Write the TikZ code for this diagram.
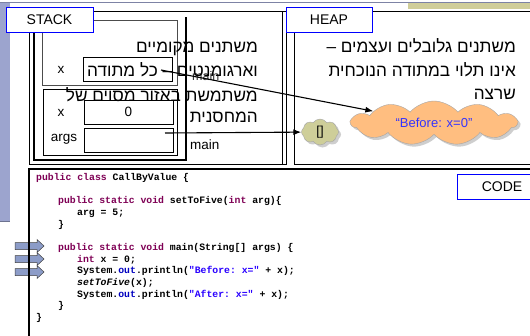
\documentclass[tikz,border=0pt]{standalone}
\usepackage{fontspec}
\setmainfont{Liberation Sans}
\setmonofont{Liberation Mono}
\newfontfamily\hebfont[Script=Hebrew]{Liberation Sans}
\TeXXeTstate=1
\usetikzlibrary{positioning,shapes.symbols,shadows,arrows.meta}

\definecolor{boxblue}{RGB}{0,0,255}
\definecolor{barblue}{RGB}{156,164,206}
\definecolor{arrowblue}{RGB}{140,156,200}
\definecolor{khaki}{RGB}{208,206,154}
\definecolor{cloudorange}{RGB}{255,190,128}
\definecolor{cloudkhaki}{RGB}{206,206,153}
\definecolor{quoteblue}{RGB}{51,51,255}
\definecolor{kwcol}{RGB}{127,0,85}
\definecolor{fldcol}{RGB}{0,0,192}
\definecolor{strcol}{RGB}{42,0,255}

% java syntax colouring
\newcommand{\jkw}[1]{\textcolor{kwcol}{#1}}
\newcommand{\jfld}[1]{\textcolor{fldcol}{#1}}
\newcommand{\jstr}[1]{\textcolor{strcol}{#1}}

\begin{document}
\begin{tikzpicture}[x=1pt,y=-1pt,
  labelbox/.style={draw=boxblue,line width=1pt,fill=white,minimum width=86pt,
    minimum height=25pt,inner sep=0pt,font=\fontsize{14}{16}\selectfont},
  valbox/.style={draw,line width=0.7pt,minimum width=89pt,minimum height=24pt,
    inner sep=0pt,font=\fontsize{13.5}{15}\selectfont},
  varname/.style={inner sep=0pt,font=\fontsize{13.5}{15}\selectfont},
  hebnote/.style={anchor=base east,inner sep=0pt,font=\hebfont\fontsize{17.2}{20}\selectfont},
  codeline/.style={anchor=base west,inner sep=0pt,font=\ttfamily\bfseries\fontsize{9.8}{11}\selectfont},
  cloudy/.style={cloud,cloud ignores aspect,draw=black!35,line width=0.4pt,inner sep=0pt,
    drop shadow={shadow xshift=2.5pt,shadow yshift=-2.5pt,fill=gray!75}},
  ptr/.style={-{Latex[length=8pt,width=6pt]},line width=1.1pt}
]
\useasboundingbox (0,0) rectangle (530,335);
\clip (0,0) rectangle (530,335);
\fill[white] (0,0) rectangle (530,335);

% slide decoration
\fill[barblue] (0,3) rectangle (10,222);
\draw[barblue!70!black] (0,221.5) -- (10,221.5);
\draw[barblue!80!black,line width=0.6pt] (0,2.5) -- (530,2.5);
\fill[khaki] (408,3.2) rectangle (530,9);

% stack area
\draw[line width=1pt] (29,11) rectangle (286,164);
\draw[line width=0.8pt] (282,11) -- (282,164);
\draw[line width=1.3pt] (186,17) -- (186,160) -- (34,160) -- (34,30);

% frame of setToFive
\draw[gray!60!black,line width=0.8pt] (42,20) rectangle (177,85);
\node[valbox] (xbox) at (127.5,69.5) {};
\node[varname] (xname) at (61,70) {x};
\node[varname,anchor=west,gray!40!black,font=\fontsize{12.5}{14}\selectfont] (frame1) at (192,76) {main};

% frame of main
\draw[line width=0.8pt] (43,89) rectangle (177,155);
\node[valbox] (xval) at (128.5,112) {0};
\node[valbox] (argsval) [below=4pt of xval] {};
\node[varname] (xname2) at (61,113) {x};
\node[varname] (argsname) at (64,139) {args};
\node[varname,anchor=west] (frame2) at (190,145) {main};

% heap area
\draw[line width=1pt] (294,11) rectangle (540,164);
\node[cloudy,fill=cloudkhaki,cloud puffs=8,cloud puff arc=110,minimum width=37pt,
  minimum height=26pt,font=\fontsize{13}{15}\selectfont] (argcloud) at (320,132) {[]};
\node[cloudy,fill=cloudorange,cloud puffs=11,cloud puff arc=100,minimum width=166pt,
  minimum height=44pt,text=quoteblue,font=\fontsize{13}{15}\selectfont] (strcloud) at (434,123) {“Before: x=0”};

% notes
\node[hebnote] (stack1) at (258,52.7) {\beginR משתנים מקומיים\endR};
\node[hebnote] (stack2) at (258,76) {\beginR וארגומנטים – כל מתודה\endR};
\node[hebnote] (stack3) at (258,101) {\beginR משתמשת באזור מסוים של\endR};
\node[hebnote] (stack4) at (258,122.7) {\beginR המחסנית\endR};
\node[hebnote] (heap1) at (516,52.7) {\beginR משתנים גלובלים ועצמים –\endR};
\node[hebnote] (heap2) at (516,76) {\beginR אינו תלוי במתודה הנוכחית\endR};
\node[hebnote] (heap3) at (516,99.3) {\beginR שרצה\endR};

% references into the heap
\coordinate (xref) at (161,70);
\coordinate (argsref) at (165,133);
\draw[ptr] (xref) -- (strcloud);
\draw[ptr] (argsref) -- (argcloud);

% code area
\foreach \ay in {246,259,272}
  \filldraw[fill=arrowblue,draw=black!75,line width=0.5pt]
    (15,\ay-3.5) -- (37,\ay-3.5) -- (37,\ay-6.5) -- (44,\ay)
    -- (37,\ay+6.5) -- (37,\ay+3.5) -- (15,\ay+3.5) -- cycle;
\draw[line width=1.2pt] (540,169) -| (29,340);

\node[codeline] (c0) at (36,180.3) {\jkw{public} \jkw{class} CallByValue \{};
\node[codeline] (c2) at (58,203.6) {\jkw{public} \jkw{static} \jkw{void} setToFive(\jkw{int} arg)\{};
\node[codeline] (c3) at (77,215.3) {arg = 5;};
\node[codeline] (c4) at (58,227) {\}};
\node[codeline] (c6) at (58,250.3) {\jkw{public} \jkw{static} \jkw{void} main(String[] args) \{};
\node[codeline] (c7) at (77,262) {\jkw{int} x = 0;};
\node[codeline] (c8) at (77,273.7) {System.\jfld{out}.println(\jstr{"Before: x="} + x);};
\node[codeline] (c9) at (77,285.4) {\textit{setToFive}(x);};
\node[codeline] (c10) at (77,297) {System.\jfld{out}.println(\jstr{"After: x="} + x);};
\node[codeline] (c11) at (58,308.7) {\}};
\node[codeline] (c12) at (36,320.4) {\}};

% area labels
\node[labelbox,minimum width=87pt] (stacklbl) at (49.5,19.5) {STACK};
\node[labelbox] (heaplbl) at (329,19.5) {HEAP};
\node[labelbox,minimum width=90pt] (codelbl) at (502,186.5) {CODE};
\end{tikzpicture}
\end{document}
